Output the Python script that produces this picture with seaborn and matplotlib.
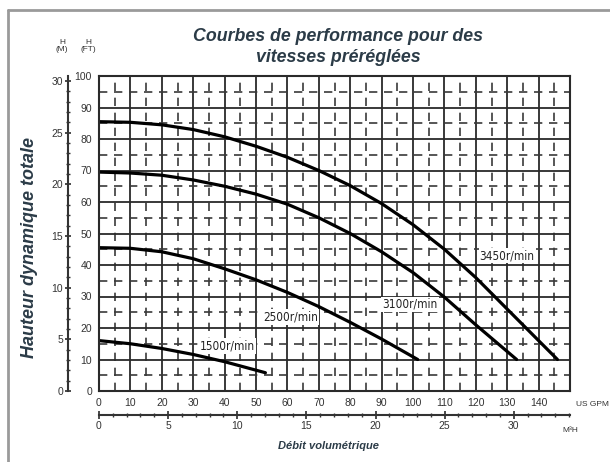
import numpy as np
import pandas as pd
import matplotlib
matplotlib.use("Agg")
import matplotlib.pyplot as plt
import seaborn as sns
from matplotlib.ticker import MultipleLocator
from matplotlib.lines import Line2D

# ── DATA ──────────────────────────────────────────────────────────────────────
speeds = ["3450r/min", "3100r/min", "2500r/min", "1500r/min"]

gpm_3450 = [0, 10, 20, 30, 40, 50, 60, 70, 80, 90, 100, 110, 120, 130, 138, 146]
head_3450 = [85.5, 85.3, 84.5, 83, 80.7, 77.7, 74.2, 70, 65.2, 59.5, 52.8, 45, 36, 26, 18, 10]

gpm_3100 = [0, 10, 20, 30, 40, 50, 60, 70, 80, 90, 100, 110, 120, 133]
head_3100 = [69.5, 69.2, 68.5, 67, 65, 62.5, 59.3, 55, 50, 44.2, 37.6, 29.8, 21, 10]

gpm_2500 = [0, 10, 20, 30, 40, 50, 60, 70, 80, 90, 101.5]
head_2500 = [45.5, 45.3, 44.2, 42, 38.8, 35.3, 31.3, 26.8, 21.8, 16.5, 10]

gpm_1500 = [0, 10, 20, 30, 40, 53]
head_1500 = [16, 15, 13.5, 11.6, 9.3, 5.8]

# label anchor (gpm, ft) for each curve
label_gpm = [130, 99, 61, 41]
label_ft = [43, 27.5, 23.5, 14.3]

gpm_ticks = list(range(0, 150, 10))
ft_ticks = list(range(0, 101, 10))
m_ticks = list(range(0, 31, 5))
m3h_ticks = list(range(0, 31, 5))

title = "Courbes de performance pour des\nvitesses préréglées"
ylab = "Hauteur dynamique totale"
xlab = "Débit volumétrique"

FT_TO_M = 0.3048
M3H_TO_GPM = 4.4029

# ── BUILD LONG TABLE ─────────────────────────────────────────────────────────
series = [gpm_3450, gpm_3100, gpm_2500, gpm_1500]
heads = [head_3450, head_3100, head_2500, head_1500]
df = pd.concat([pd.DataFrame({"gpm": g, "ft": h, "speed": s})
                for g, h, s in zip(series, heads, speeds)], ignore_index=True)

# ── PLOT ─────────────────────────────────────────────────────────────────────
sns.set_theme(style="white")
plt.rcParams["font.family"] = ["Liberation Sans", "DejaVu Sans"]

W, H = 610, 462
fig = plt.figure(figsize=(W / 100, H / 100), dpi=100)
fig.patch.set_facecolor("white")

# outer frame (left + top visible in the reference)
fig.add_artist(Line2D([8 / W, 8 / W], [0, 1 - 10 / H], transform=fig.transFigure,
                      color="#9a9a9a", lw=2))
fig.add_artist(Line2D([8 / W, 1], [1 - 10 / H, 1 - 10 / H], transform=fig.transFigure,
                      color="#9a9a9a", lw=2))

ax = fig.add_axes([99 / W, (H - 391) / H, 471 / W, 315 / H])
ax.set_xlim(0, 150)
ax.set_ylim(0, 100)

# grid: solid every 10, dashed every 5
ax.xaxis.set_major_locator(MultipleLocator(10))
ax.yaxis.set_major_locator(MultipleLocator(10))
ax.xaxis.set_minor_locator(MultipleLocator(5))
ax.yaxis.set_minor_locator(MultipleLocator(5))
ax.grid(which="major", color="#2a2a2a", lw=1.3, ls="-")
ax.grid(which="minor", color="#3a3a3a", lw=1.2, ls=(0, (5, 4)))
ax.set_axisbelow(True)

sns.lineplot(data=df, x="gpm", y="ft", hue="speed", units="speed", estimator=None,
             palette=["black"] * 4, lw=2.3, legend=False, sort=False, ax=ax)

for s, gx, fy in zip(speeds, label_gpm, label_ft):
    ax.text(gx, fy, s, fontsize=8.5, ha="center", va="center", color="#222",
            family="DejaVu Sans", fontstretch="condensed",
            bbox=dict(boxstyle="square,pad=0.1", fc="white", ec="none"))

ax.set_xticks(gpm_ticks)
ax.set_yticks(ft_ticks)
ax.tick_params(axis="both", which="major", labelsize=7.5, colors="#333",
               length=3, direction="out", pad=2)
ax.tick_params(axis="both", which="minor", length=0)
for sp in ax.spines.values():
    sp.set_color("#2a2a2a")
    sp.set_linewidth(1.5)
ax.set_xlabel("")
ax.set_ylabel("")

# metre axis on the far left
ax_m = ax.secondary_yaxis(-31 / 471, functions=(lambda f: f * FT_TO_M,
                                                 lambda m: m / FT_TO_M))
ax_m.set_yticks(m_ticks)
ax_m.yaxis.set_minor_locator(MultipleLocator(1))
ax_m.tick_params(which="major", labelsize=7.5, colors="#333", length=5,
                 direction="inout", pad=1)
ax_m.tick_params(which="minor", length=3, direction="inout", color="#333")
ax_m.spines["left"].set_color("#333")
ax_m.spines["left"].set_linewidth(1.5)

# m3/h axis below
ax_q = ax.secondary_xaxis(-24 / 315, functions=(lambda g: g / M3H_TO_GPM,
                                                 lambda q: q * M3H_TO_GPM))
ax_q.set_xticks(m3h_ticks)
ax_q.xaxis.set_minor_locator(MultipleLocator(1))
ax_q.tick_params(which="major", labelsize=7.5, colors="#333", length=6,
                 direction="inout", pad=1)
ax_q.tick_params(which="minor", length=3, direction="inout", color="#333")
ax_q.spines["bottom"].set_color("#333")
ax_q.spines["bottom"].set_linewidth(1.5)

# unit labels
fig.text(62 / W, 1 - 46 / H, "H\n(M)", fontsize=6, ha="center", va="center",
         color="#333", linespacing=1.1)
fig.text(88 / W, 1 - 46 / H, "H\n(FT)", fontsize=6, ha="center", va="center",
         color="#333", linespacing=1.1)
fig.text(576 / W, 1 - 404 / H, "US GPM", fontsize=6, ha="left", va="center",
         color="#333")
fig.text(562 / W, 1 - 430 / H, "M³H", fontsize=6, ha="left", va="center",
         color="#333")

# titles
txt_col = "#2b3b47"
fig.text(338 / W, 1 - 47 / H, title, fontsize=12.8, fontweight="bold",
         fontstyle="italic", ha="center", va="center", color=txt_col,
         linespacing=1.25)
fig.text(30 / W, 1 - 247 / H, ylab, fontsize=13, fontweight="bold",
         fontstyle="italic", ha="center", va="center", rotation=90, color=txt_col)
fig.text(328 / W, 1 - 446 / H, xlab, fontsize=8, fontweight="bold",
         fontstyle="italic", ha="center", va="center", color=txt_col)

plt.savefig("out.png", dpi=100)
